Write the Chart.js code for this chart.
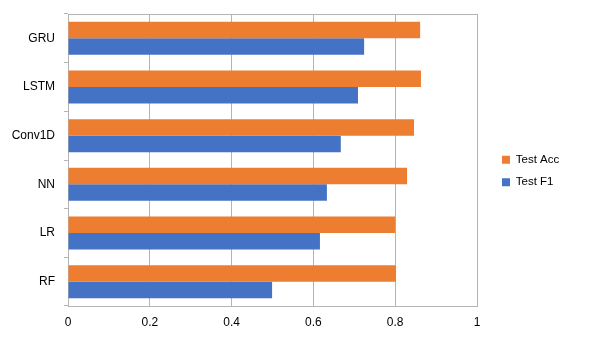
<!DOCTYPE html>
<html>
<head>
<meta charset="utf-8">
<script src="https://cdn.jsdelivr.net/npm/chart.js@4/dist/chart.umd.min.js"></script>
<style>
  html, body { margin: 0; padding: 0; background: #fff; }
  #wrap { width: 605px; height: 340px; }
</style>
</head>
<body>
<div id="wrap"><canvas id="myBarChart"></canvas></div>
<script>
const categories = ['GRU', 'LSTM', 'Conv1D', 'NN', 'LR', 'RF'];
const testAcc = [0.861, 0.863, 0.846, 0.829, 0.800, 0.802];
const testF1 = [0.724, 0.709, 0.667, 0.633, 0.616, 0.499];
const xTicks = [0, 0.2, 0.4, 0.6, 0.8, 1];

const gridGray = '#b4b4b4';
Chart.defaults.font.family = '"Liberation Sans", Arial, sans-serif';
Chart.defaults.font.size = 12;
Chart.defaults.color = '#000';

// keep the legend a fixed width and nudge it where the original sits
const legendPlace = {
  id: 'legendPlace',
  beforeInit(chart) {
    const fit = chart.legend.fit;
    chart.legend.fit = function () {
      fit.call(this);
      this.width = 128;
    };
  },
  afterLayout(chart) {
    const lg = chart.legend;
    lg.left += 14; lg.right += 14;
    lg.top -= 6; lg.bottom -= 6;
  }
};

var ctx = document.getElementById('myBarChart').getContext('2d');
var myBarChart = new Chart(ctx, {
  type: 'bar',
  data: {
    labels: categories,
    datasets: [{
      label: 'Test Acc',
      data: testAcc,
      backgroundColor: '#ED7D31',
      borderWidth: 0
    }, {
      label: 'Test F1',
      data: testF1,
      backgroundColor: '#4472C4',
      borderWidth: 0
    }]
  },
  options: {
    indexAxis: 'y',
    responsive: true,
    maintainAspectRatio: false,
    animation: false,
    categoryPercentage: 0.678,
    barPercentage: 1,
    layout: { autoPadding: false, padding: { top: 14, left: 0, right: 0, bottom: 0 } },
    plugins: {
      tooltip: { enabled: false },
      legend: {
        position: 'right',
        labels: {
          boxWidth: 8,
          boxHeight: 8,
          padding: 11,
          font: { size: 11.5 },
          color: '#000'
        }
      }
    },
    scales: {
      x: {
        min: 0,
        max: 1,
        afterBuildTicks: function (scale) {
          scale.ticks = xTicks.map(v => ({ value: v }));
        },
        afterFit: function (scale) { scale.height = 34; },
        ticks: {
          padding: 9,
          callback: function (v) { return String(Math.round(v * 10) / 10); }
        },
        grid: { color: gridGray, drawTicks: false, tickLength: 0 },
        border: { color: gridGray }
      },
      // only used for the top border line of the plot
      x2: {
        position: 'top',
        min: 0,
        max: 1,
        ticks: { display: false },
        grid: { display: false, drawTicks: false },
        border: { color: gridGray }
      },
      y: {
        afterFit: function (scale) {
          scale.width = 68;
          scale.paddingTop = 0;
          scale.paddingBottom = 0;
        },
        ticks: { padding: 9 },
        grid: {
          drawOnChartArea: false,
          drawTicks: true,
          tickLength: 4,
          color: gridGray,
          offset: true
        },
        border: { color: gridGray }
      }
    }
  },
  plugins: [legendPlace]
});
</script>
</body>
</html>
